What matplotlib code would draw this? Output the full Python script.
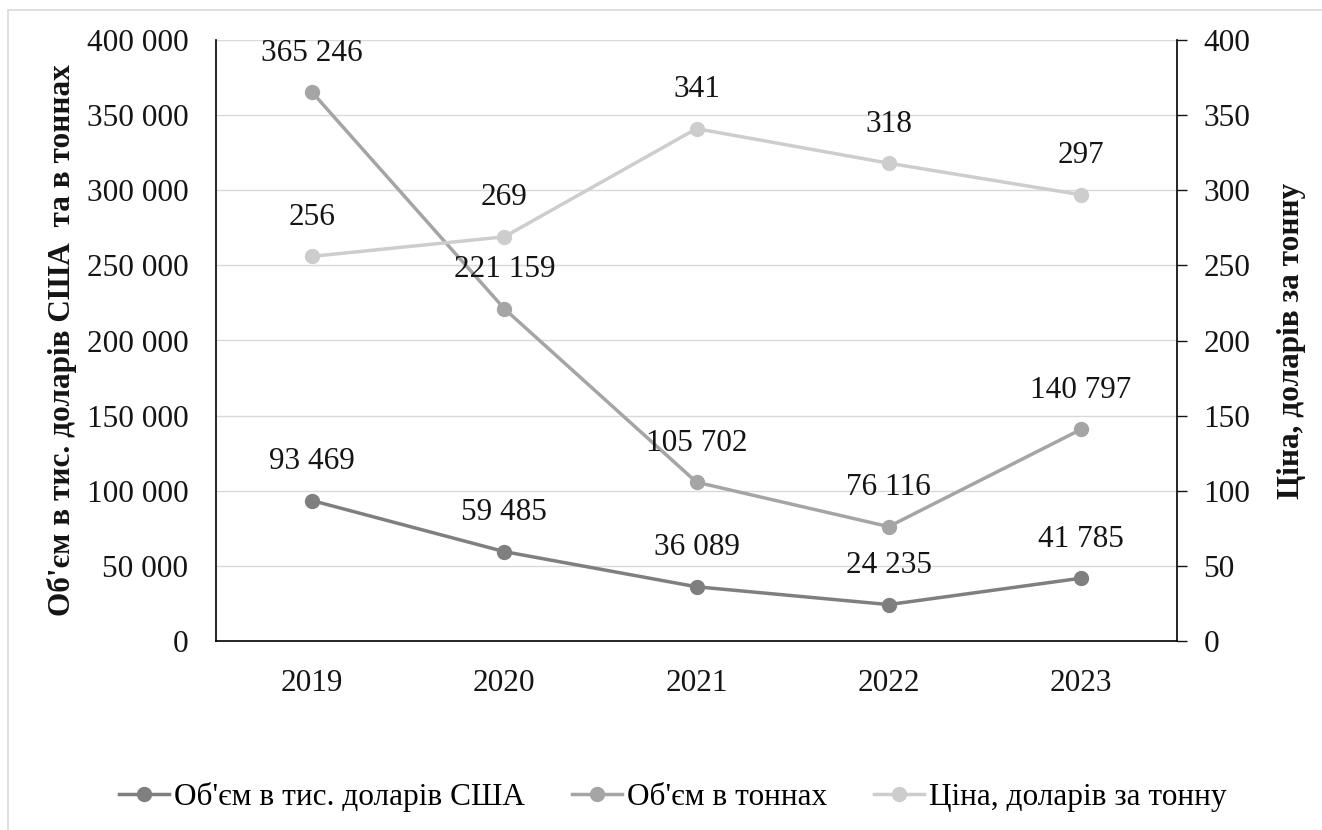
import matplotlib
matplotlib.use("Agg")
import matplotlib.pyplot as plt
from matplotlib.patches import Rectangle
from matplotlib.ticker import FuncFormatter, MultipleLocator

# ── Data ───────────────────────────────────────────────────────────────────────

years        = ["2019", "2020", "2021", "2022", "2023"]
value_usd    = [93469, 59485, 36089, 24235, 41785]        # тис. доларів США
volume_tons  = [365246, 221159, 105702, 76116, 140797]    # тонн
price_per_t  = [256, 269, 341, 318, 297]                  # доларів за тонну

label_usd    = "Об'єм в тис. доларів США"
label_tons   = "Об'єм в тоннах"
label_price  = "Ціна, доларів за тонну"

C_USD   = "#7f7f7f"
C_TONS  = "#a5a5a5"
C_PRICE = "#cdcdcd"
C_TEXT  = "#141414"
C_GRID  = "#d9d9d9"

plt.rcParams["font.family"] = ["Liberation Serif", "DejaVu Serif"]
FS = 22.5


def fmt_space(v, _pos=None):
    return f"{v:,.0f}".replace(",", " ")


def add_labels(ax, xs, ys):
    for x, y in zip(xs, ys):
        ax.annotate(fmt_space(y), (x, y), xytext=(0, 28), textcoords="offset points",
                    ha="center", va="center", fontsize=FS, color=C_TEXT)


# ── Figure ─────────────────────────────────────────────────────────────────────

fig = plt.figure(figsize=(13.22, 8.30), dpi=100)
fig.patches.append(Rectangle((8 / 1322, -0.05), 1.2, 1.05 - 10 / 830,
                             transform=fig.transFigure, fill=False,
                             edgecolor=C_GRID, linewidth=1.2))

ax = fig.add_axes([216 / 1322, 1 - 641 / 830, (1177 - 216) / 1322, (641 - 40) / 830])
ax2 = ax.twinx()

xs = list(range(len(years)))
line_kw = dict(linewidth=2.5, marker="o", markersize=10)

l1, = ax.plot(xs, value_usd, color=C_USD, label=label_usd, zorder=3, **line_kw)
l2, = ax.plot(xs, volume_tons, color=C_TONS, label=label_tons, zorder=3, **line_kw)
l3, = ax2.plot(xs, price_per_t, color=C_PRICE, label=label_price, zorder=3, **line_kw)

add_labels(ax, xs, value_usd)
add_labels(ax, xs, volume_tons)
add_labels(ax2, xs, price_per_t)

# primary axis
ax.set_xlim(-0.5, len(years) - 0.5)
ax.set_ylim(0, 400000)
ax.yaxis.set_major_locator(MultipleLocator(50000))
ax.yaxis.set_major_formatter(FuncFormatter(fmt_space))
ax.set_xticks(xs)
ax.set_xticklabels(years)
ax.grid(axis="y", color=C_GRID, linewidth=1)
ax.set_axisbelow(True)
ax.tick_params(axis="y", length=0, pad=20, labelsize=FS, colors=C_TEXT)
ax.tick_params(axis="x", length=0, pad=20, labelsize=FS, colors=C_TEXT)
ax.set_ylabel(label_usd + "  та в тоннах", fontsize=FS, fontweight="bold",
              color=C_TEXT, labelpad=7)

# secondary axis
ax2.set_ylim(0, 400)
ax2.yaxis.set_major_locator(MultipleLocator(50))
ax2.tick_params(axis="y", direction="out", length=7, width=1, pad=12,
                labelsize=FS, colors=C_TEXT)
ax2.set_ylabel(label_price, fontsize=FS, fontweight="bold", color=C_TEXT, labelpad=19)

for a in (ax, ax2):
    a.spines["top"].set_visible(False)
    for s in ("left", "right", "bottom"):
        a.spines[s].set_color("black")
        a.spines[s].set_linewidth(1.2)
ax.spines["right"].set_visible(False)
ax2.spines["left"].set_visible(False)
ax2.spines["bottom"].set_visible(False)

fig.legend(handles=[l1, l2, l3], loc="center", bbox_to_anchor=(0.509, 1 - 797 / 830),
           ncol=3, frameon=False, fontsize=FS, handlelength=1.6,
           handletextpad=0.16, columnspacing=1.5)

fig.savefig("out.png", dpi=100)
plt.close(fig)
